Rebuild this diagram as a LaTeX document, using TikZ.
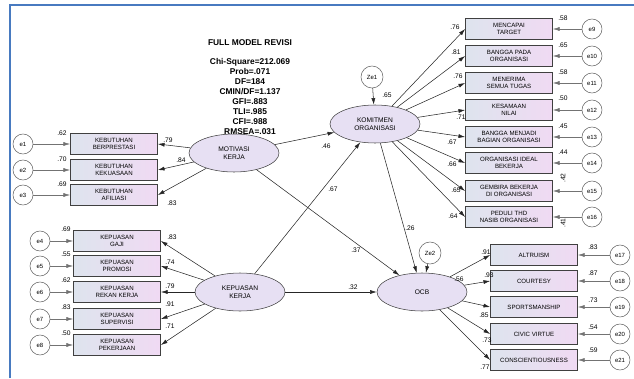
\documentclass[tikz,border=0pt]{standalone}
\usepackage{fontspec}
\setmainfont{Liberation Sans}
\usetikzlibrary{shapes.geometric,arrows.meta}
\definecolor{lavfill}{RGB}{231,224,243}
\definecolor{boxleft}{RGB}{222,228,238}
\definecolor{boxright}{RGB}{240,218,243}
\definecolor{frameblue}{RGB}{72,122,192}
\tikzset{
  latent/.style={ellipse, draw=black!75, fill=lavfill, minimum width=67.5pt, minimum height=28.5pt, inner sep=0pt, align=center, font=\fontsize{5}{5.8}\selectfont},
  indbox/.style={rectangle, draw=black!75, line width=0.8pt, left color=boxleft, right color=boxright, minimum width=65pt, minimum height=16pt, inner sep=0pt, align=center, font=\fontsize{4.6}{5.3}\selectfont},
  errc/.style={circle, draw=black!60, fill=white, minimum size=15pt, inner sep=0pt, font=\fontsize{4.5}{5}\selectfont},
  est/.style={inner sep=0.5pt, font=\fontsize{5}{5}\selectfont},
  fitlbl/.style={align=center, font=\fontsize{6.3}{7.5}\selectfont\bfseries},
  regpath/.style={draw=black!85, -{Latex[length=5pt,width=3pt]}},
  errpath/.style={draw=black!55, -{Latex[length=5pt,width=3pt]}}
}
\begin{document}
\begin{tikzpicture}[x=0.75pt,y=-0.75pt]
  \useasboundingbox (0,0) rectangle (634,378);
  %% NOTE: frame
  \draw[frameblue,line width=1.5pt] (10,378) -- (10,5) -- (634,5);
  %% fit indices
  \node[fitlbl] (title) at (250,43) {FULL MODEL REVISI};
  \node[fitlbl] (fit) at (250,97) {Chi-Square=212.069\\Prob=.071\\DF=184\\CMIN/DF=1.137\\GFI=.883\\TLI=.985\\CFI=.988\\RMSEA=.031};
  %% latent variables
  \node[latent] (mk) at (234,153) {MOTIVASI\\KERJA};
  \node[latent] (kk) at (240,292) {KEPUASAN\\KERJA};
  \node[latent] (ko) at (375,124) {KOMITMEN\\ORGANISASI};
  \node[latent] (ocb) at (422,292) {OCB};
  %% disturbances
  \node[errc,minimum size=16.5pt] (ze1) at (372,77) {Ze1};
  \node[errc,minimum size=16.5pt] (ze2) at (430,253) {Ze2};
  \draw[regpath] (ze1) -- (ko);
  \draw[regpath] (ze2) -- (ocb);
  \node[est] (r1) at (387,95) {.65};
  \node[est] (r2) at (459,279) {.56};
  %% structural paths
  \draw[regpath] (mk) -- (ko);
  \draw[regpath] (kk) -- (ko);
  \draw[regpath] (mk) -- (ocb);
  \draw[regpath] (kk) -- (ocb);
  \draw[regpath] (ko) -- (ocb);
  \node[est] (p1) at (326,146) {.46};
  \node[est] (p2) at (333,189) {.67};
  \node[est] (p3) at (356,250) {.37};
  \node[est] (p4) at (353,287) {.32};
  \node[est] (p5) at (410,228) {.26};
  %% motivasi kerja
  \foreach \i/\y/\txt/\r/\l/\lx/\ly in {
    1/144/{KEBUTUHAN\\BERPRESTASI}/.62/.79/168/140,
    2/170/{KEBUTUHAN\\KEKUASAAN}/.70/.84/181/160,
    3/195/{KEBUTUHAN\\AFILIASI}/.69/.83/172/203}{
    \node[indbox] (mki\i) at (114,\y) {\txt};
    \node[errc] (e\i) at (23,\y) {e\i};
    \node[est] (rmk\i) at (62,\y-11) {\r};
    \node[est] (lmk\i) at (\lx,\ly) {\l};
    \draw[errpath] (e\i) -- (mki\i);
    \draw[regpath] (mk) -- (mki\i.east);
  }
  %% kepuasan kerja
  \foreach \i/\y/\txt/\r/\l/\lx/\ly in {
    4/241/{KEPUASAN\\GAJI}/.69/.83/172/237,
    5/266/{KEPUASAN\\PROMOSI}/.55/.74/170/262,
    6/292/{KEPUASAN\\REKAN KERJA}/.62/.79/170/286,
    7/319/{KEPUASAN\\SUPERVISI}/.83/.91/170/304,
    8/345/{KEPUASAN\\PEKERJAAN}/.50/.71/170/326}{
    \node[indbox] (kki\i) at (117,\y) {\txt};
    \node[errc] (e\i) at (40,\y) {e\i};
    \node[est] (rkk\i) at (66,\y-12) {\r};
    \node[est] (lkk\i) at (\lx,\ly) {\l};
    \draw[errpath] (e\i) -- (kki\i);
    \draw[regpath] (kk) -- (kki\i.east);
  }
  %% komitmen organisasi
  \foreach \i/\y/\txt/\r/\rx/\ry/\rot/\l/\lx/\ly in {
    9/29/{MENCAPAI\\TARGET}/.58/563/18/0/.76/455/27,
    10/56/{BANGGA PADA\\ORGANISASI}/.65/563/45/0/.81/456/52,
    11/83/{MENERIMA\\SEMUA TUGAS}/.58/563/72/0/.76/458/76,
    12/110/{KESAMAAN\\NILAI}/.50/563/98/0/.71/461/117,
    13/137/{BANGGA MENJADI\\BAGIAN ORGANISASI}/.45/563/126/0/.67/452/142,
    14/163/{ORGANISASI IDEAL\\BEKERJA}/.44/563/152/0/.66/452/164,
    15/191/{GEMBIRA BEKERJA\\DI ORGANISASI}/.42/563/178/90/.65/456/190,
    16/217/{PEDULI THD\\NASIB ORGANISASI}/.41/563/223/90/.64/453/216}{
    \node[indbox] (koi\i) at (509,\y) {\txt};
    \node[errc] (e\i) at (592,\y) {e\i};
    \node[est,rotate=\rot] (rko\i) at (\rx,\ry) {\r};
    \node[est] (lko\i) at (\lx,\ly) {\l};
    \draw[errpath] (e\i) -- (koi\i);
    \draw[regpath] (ko) -- (koi\i.west);
  }
  %% ocb
  \foreach \i/\y/\txt/\r/\ry/\l/\lx/\ly in {
    17/255/ALTRUISM/.83/247/.91/486/252,
    18/281/COURTESY/.87/273/.93/489/275,
    19/307/SPORTSMANSHIP/.73/300/.85/484/315,
    20/334/CIVIC VIRTUE/.54/327/.73/487/340,
    21/360/CONSCIENTIOUSNESS/.59/350/.77/485/367}{
    \node[indbox] (ocbi\i) at (534,\y) {\txt};
    \node[errc] (e\i) at (620,\y) {e\i};
    \node[est] (rocb\i) at (593,\ry) {\r};
    \node[est] (locb\i) at (\lx,\ly) {\l};
    \draw[errpath] (e\i) -- (ocbi\i);
    \draw[regpath] (ocb) -- (ocbi\i.west);
  }
\end{tikzpicture}
\end{document}
